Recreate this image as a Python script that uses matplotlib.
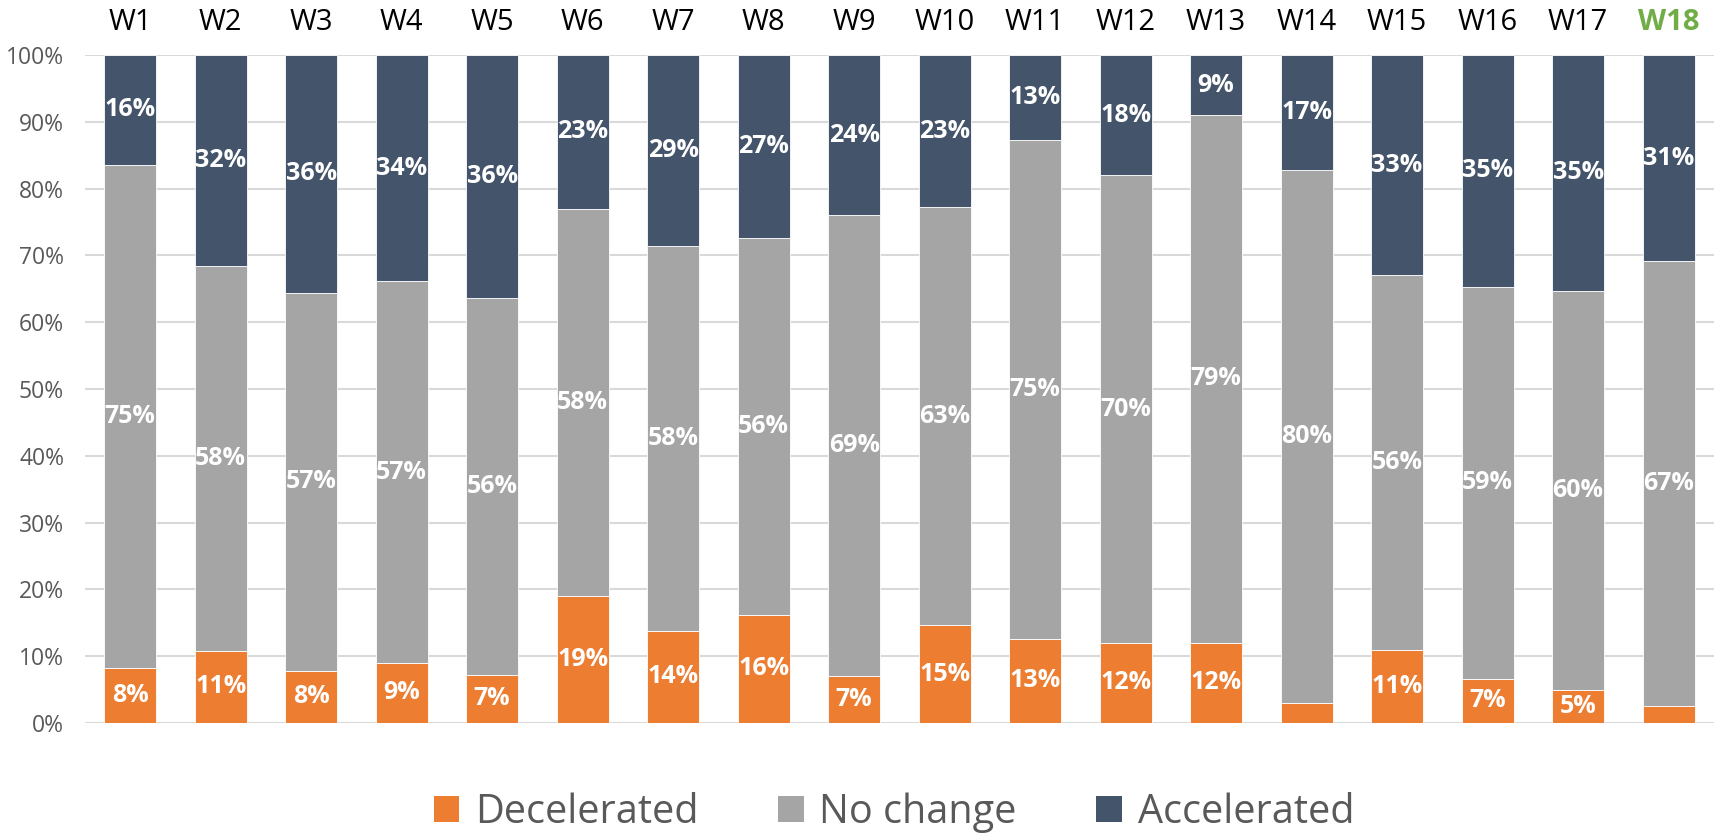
import matplotlib.pyplot as plt
from matplotlib.patches import Patch

plt.rcParams['font.family'] = ['Open Sans', 'DejaVu Sans']

weeks = ["W1", "W2", "W3", "W4", "W5", "W6", "W7", "W8", "W9",
         "W10", "W11", "W12", "W13", "W14", "W15", "W16", "W17", "W18"]

# shares in percent
decelerated = [8.2, 10.8, 7.8, 9.0, 7.2, 19.0, 13.8, 16.2, 7.1,
               14.6, 12.6, 12.0, 12.0, 3.0, 11.0, 6.6, 4.9, 2.5]
no_change = [75.4, 57.6, 56.6, 57.1, 56.4, 58.0, 57.6, 56.4, 68.9,
             62.6, 74.6, 70.0, 79.0, 79.8, 56.0, 58.7, 59.8, 66.6]
accelerated = [16.4, 31.6, 35.6, 33.9, 36.4, 23.0, 28.6, 27.4, 24.0,
               22.8, 12.8, 18.0, 9.0, 17.2, 33.0, 34.7, 35.3, 30.9]

series = [("Decelerated", decelerated, "#ED7D31"),
          ("No change", no_change, "#A5A5A5"),
          ("Accelerated", accelerated, "#44546A")]

fig = plt.figure(figsize=(17.19, 8.38), dpi=100)
ax = fig.add_axes([0.0494, 0.1372, 0.9476, 0.7972])

x = list(range(len(weeks)))
bottom = [0.0] * len(weeks)
for name, vals, col in series:
    ax.bar(x, vals, width=0.575, bottom=bottom, color=col,
           edgecolor="white", linewidth=0.6, zorder=2)
    for i, v in enumerate(vals):
        if v >= 4:  # Excel hides the tiny ones
            ax.text(i, bottom[i] + v / 2, f"{v:.0f}%", ha="center", va="center",
                    color="white", fontsize=18, fontweight="bold", zorder=3)
    bottom = [b + v for b, v in zip(bottom, vals)]

ax.set_xlim(-0.5, len(weeks) - 0.5)
ax.set_ylim(0, 100)
ax.set_yticks(range(0, 101, 10))
ax.set_yticklabels([f"{t}%" for t in range(0, 101, 10)])
ax.tick_params(axis="y", length=0, pad=15, labelsize=16.5, labelcolor="#595959")

ax.xaxis.tick_top()
ax.set_xticks(x)
ax.set_xticklabels(weeks)
ax.tick_params(axis="x", length=0, pad=13, labelsize=21)
lab = ax.get_xticklabels()[-1]
lab.set_color("#70AD47")
lab.set_fontweight("bold")

ax.grid(axis="y", color="#D9D9D9", linewidth=1.5, zorder=0)
ax.set_axisbelow(True)
for s in ax.spines.values():
    s.set_visible(False)

handles = [Patch(facecolor=c, label=n) for n, v, c in series]
fig.legend(handles=handles, loc="center", bbox_to_anchor=(0.52, 0.03), ncol=3,
           frameon=False, fontsize=28.5, labelcolor="#595959",
           handlelength=0.65, handleheight=0.65, handletextpad=0.4, columnspacing=2.0)

fig.savefig("out.png", dpi=100)
